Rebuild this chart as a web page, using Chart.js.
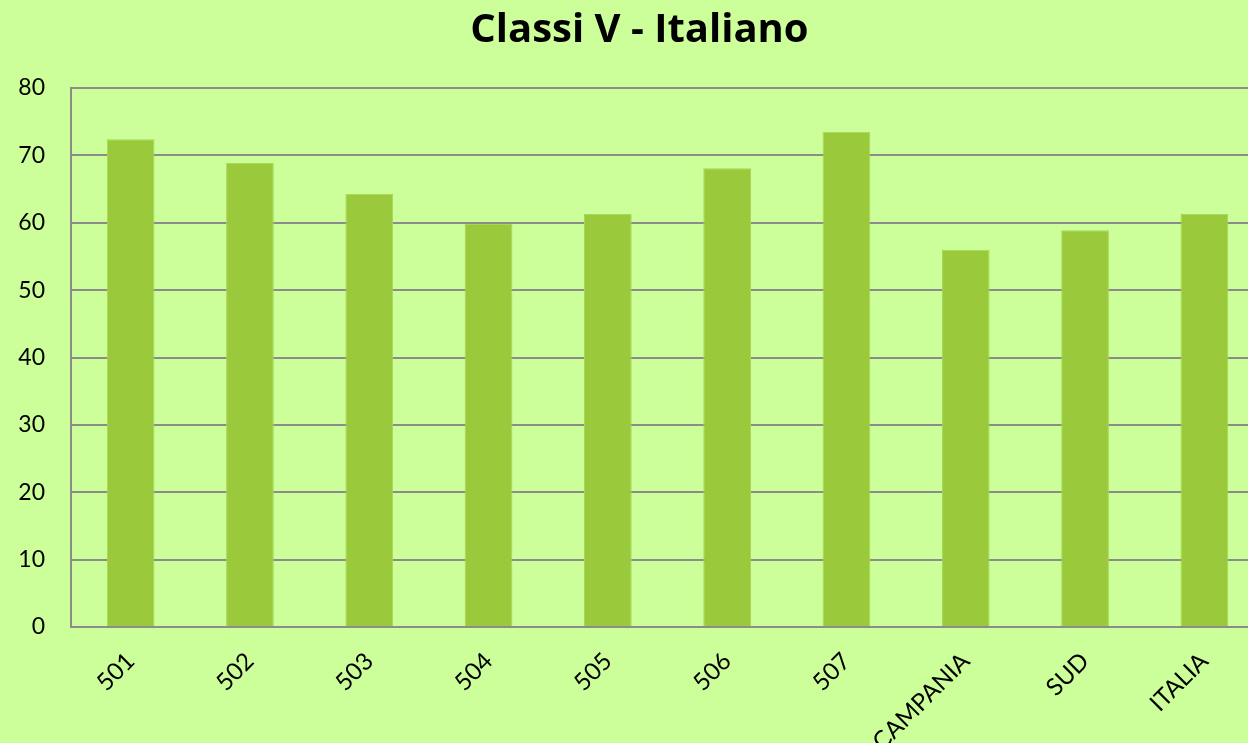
<!DOCTYPE html>
<html>
<head>
<meta charset="utf-8">
<script src="https://cdn.jsdelivr.net/npm/chart.js@4.4.0/dist/chart.umd.min.js"></script>
<style>
  html, body { margin: 0; padding: 0; overflow: hidden; background: #ccff99; }
  canvas { display: block; }
</style>
</head>
<body>
<canvas id="mycanvas" width="1264" height="743"></canvas>
<script>
// categories and values
var classi = ["501", "502", "503", "504", "505", "506", "507", "CAMPANIA", "SUD", "ITALIA"];
var punteggi = [72.4, 68.9, 64.3, 59.8, 61.3, 68.1, 73.5, 56.0, 58.9, 61.3];
var yMin = 0;
var yMax = 80;
var yStep = 10;

var sfondo = {
  id: 'sfondo',
  beforeDraw: function(chart) {
    var c = chart.ctx;
    c.save();
    c.fillStyle = '#ccff99';
    c.fillRect(0, 0, chart.width, chart.height);
    c.restore();
  }
};

var ctx = document.getElementById('mycanvas');

var barGraph = new Chart(ctx, {
  type: 'bar',
  data: {
    labels: classi,
    datasets: [
      {
        label: 'Classi V - Italiano',
        backgroundColor: '#9aca3c',
        borderColor: '#a8d656',
        borderWidth: 1,
        barPercentage: 0.4,
        categoryPercentage: 1,
        data: punteggi
      }
    ]
  },
  options: {
    responsive: false,
    devicePixelRatio: 1,
    animation: false,
    layout: { padding: { left: 15, right: 0, top: 0, bottom: 0 } },
    plugins: {
      legend: { display: false },
      tooltip: { enabled: false },
      title: {
        display: true,
        text: 'Classi V - Italiano',
        color: '#000',
        font: { family: 'Open Sans', size: 40, weight: 'bold', lineHeight: 1.2 },
        padding: { top: 7, bottom: 33 }
      }
    },
    scales: {
      x: {
        afterFit: function(scale) { scale.height = 116; },
        grid: { display: false, drawTicks: false },
        border: { display: true, color: '#8c8c8c', width: 2 },
        ticks: {
          color: '#000',
          font: { family: 'Lato', size: 24 },
          minRotation: 45,
          maxRotation: 45,
          padding: 20,
          autoSkip: false
        }
      },
      y: {
        min: yMin,
        max: yMax,
        afterFit: function(scale) { scale.width = 56; },
        grid: { color: '#8c8c8c', lineWidth: 2, drawTicks: false },
        border: { display: true, color: '#8c8c8c', width: 2 },
        ticks: {
          stepSize: yStep,
          color: '#000',
          font: { family: 'Lato', size: 23 },
          padding: 26
        }
      }
    }
  },
  plugins: [sfondo]
});
</script>
</body>
</html>
